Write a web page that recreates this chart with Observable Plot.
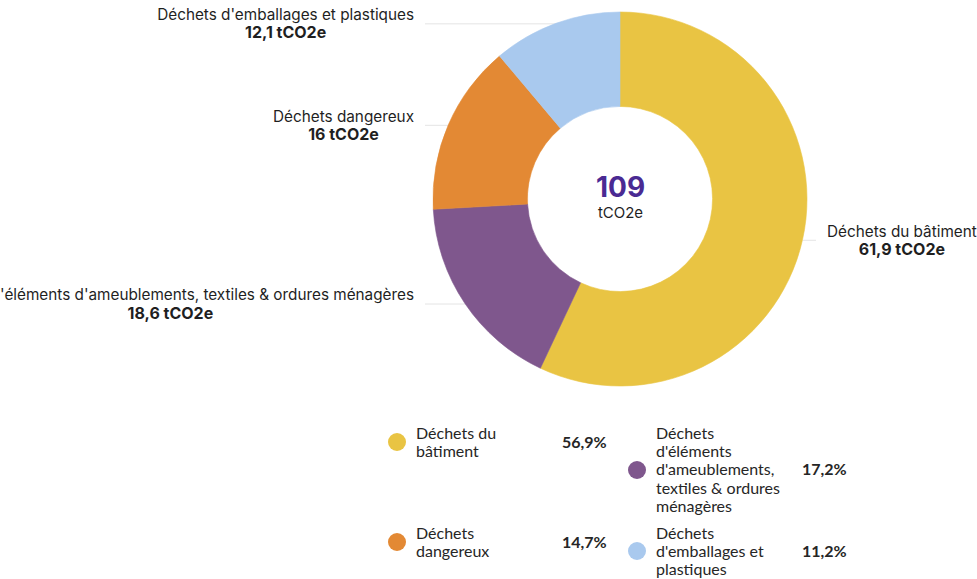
<!DOCTYPE html>
<html><head><meta charset="utf-8">
<script src="https://cdn.jsdelivr.net/npm/d3@7"></script>
<script src="https://cdn.jsdelivr.net/npm/@observablehq/plot@0.6"></script>
<style>
body{margin:0;background:#fff;}
#wrap{position:relative;width:977px;height:579px;overflow:hidden;background:#fff;}
#wrap svg{position:absolute;left:0;top:0;}
#legend{position:absolute;left:388px;top:424px;display:grid;grid-template-columns:240px 240px;row-gap:9px;align-items:start;font-family:Lato,sans-serif;font-size:16px;line-height:18.2px;color:#262626;}
.item{display:flex;align-items:center;}
.sw{width:18px;height:18px;border-radius:50%;margin-right:10px;flex:none;}
.lbl{width:146px;flex:none;white-space:nowrap;}
.pct{font-weight:700;white-space:nowrap;}
</style></head><body><div id="wrap"></div>
<script>
// ---- data ----
const categories = [
  "Déchets du bâtiment",
  "Déchets d'éléments d'ameublements, textiles & ordures ménagères",
  "Déchets dangereux",
  "Déchets d'emballages et plastiques"
];
const values = [61.9, 18.6, 16, 12.1];          // tCO2e
const shares = [56.9, 17.2, 14.7, 11.2];        // % shown in legend
const colors = ["#E9C443", "#7F578D", "#E38934", "#A9C9EE"];
const unit = "tCO2e";
const legendLines = [
  ["Déchets du", "bâtiment"],
  ["Déchets", "d'éléments", "d'ameublements,", "textiles & ordures", "ménagères"],
  ["Déchets", "dangereux"],
  ["Déchets", "d'emballages et", "plastiques"]
];

// ---- layout constants ----
const W = 977, H = 410, CX = 620, CY = 199, R = 187, INNER = 0.495;
const LINE_GAP = 8.5, TEXT_GAP = 19.5, LABEL_SIZE = 15.3;
const fr = (v) => String(v).replace(".", ",");

const rows = categories.map((c, i) => ({category: c, value: values[i], color: colors[i]}));
const total = d3.sum(values);
const arcs = d3.pie().sort(null).value(d => d.value)(rows);
const colorOf = d3.scaleOrdinal(categories, colors);

const ctx = document.createElement("canvas").getContext("2d");
ctx.font = `${LABEL_SIZE}px Inter`;

const labelRows = arcs.map(a => {
  const m = (a.startAngle + a.endAngle) / 2;
  const side = Math.sin(m) >= 0 ? 1 : -1;
  const w = ctx.measureText(a.data.category).width;
  return {
    name: a.data.category,
    valueLabel: `${fr(a.data.value)} ${unit}`,
    ex: Math.sin(m),
    ly: -Math.cos(m),
    lx: side * (1 + LINE_GAP / R),
    tx: side * (1 + TEXT_GAP / R + w / 2 / R)
  };
});

function donut(index, scales) {
  const cx = scales.x(0), cy = scales.y(0), r = scales.x(1) - cx;
  const arc = d3.arc().innerRadius(r * INNER).outerRadius(r);
  const g = d3.create("svg:g").attr("transform", `translate(${cx},${cy})`);
  g.selectAll("path").data(arcs).join("path")
    .attr("d", arc)
    .attr("fill", d => colorOf(d.data.category))
    .attr("stroke", d => colorOf(d.data.category))
    .attr("stroke-width", 0.6);
  return g.node();
}

const chart = Plot.plot({
  width: W, height: H, margin: 0,
  x: {domain: [-1, 1], range: [CX - R, CX + R], axis: null},
  y: {domain: [-1, 1], range: [CY - R, CY + R], axis: null},
  style: {fontFamily: "Inter, sans-serif", background: "transparent", overflow: "visible"},
  marks: [
    Plot.link(labelRows, {x1: "ex", y1: "ly", x2: "lx", y2: "ly", stroke: "#e4e4e4", strokeWidth: 1}),
    donut,
    Plot.text(labelRows, {x: "tx", y: "ly", text: "name", dy: -8.5, fontSize: LABEL_SIZE, fill: "#1f1f1f", textAnchor: "middle"}),
    Plot.text(labelRows, {x: "tx", y: "ly", text: "valueLabel", dy: 9.5, fontSize: 16, fontWeight: 700, fill: "#1f1f1f", textAnchor: "middle"}),
    Plot.text([total], {x: 0, y: 0, text: d => String(Math.round(d)), dy: -11, fontSize: 28, fontWeight: 700, fill: "#4A2A93"}),
    Plot.text([unit], {x: 0, y: 0, text: d => d, dy: 14, fontSize: 15, fill: "#1f1f1f"})
  ]
});
const wrap = document.getElementById("wrap");
wrap.appendChild(chart);

// ---- legend ----
const legend = document.createElement("div");
legend.id = "legend";
categories.forEach((c, i) => {
  const item = document.createElement("div");
  item.className = "item";
  item.innerHTML = `<span class="sw" style="background:${colors[i]}"></span>` +
    `<span class="lbl">${legendLines[i].join("<br>")}</span>` +
    `<span class="pct">${fr(shares[i].toFixed(1))}%</span>`;
  legend.appendChild(item);
});
wrap.appendChild(legend);
</script></body></html>
